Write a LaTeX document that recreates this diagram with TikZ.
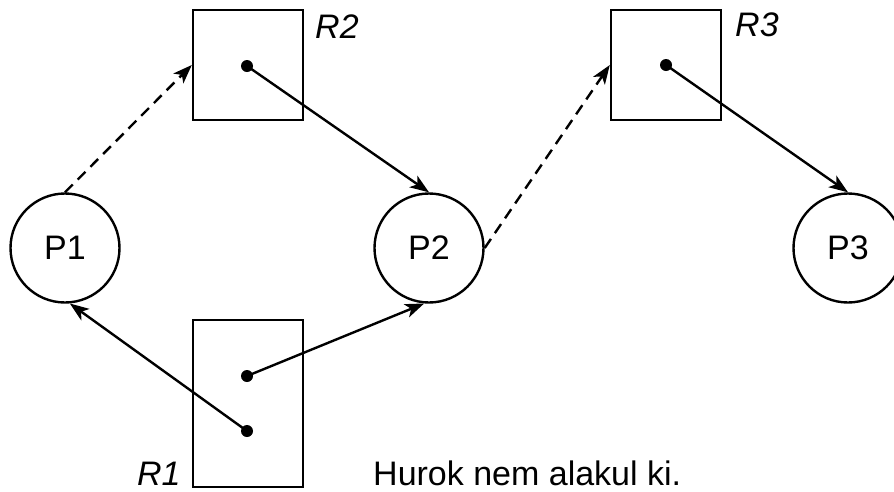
\documentclass[tikz,border=0pt]{standalone}
\usepackage{fontspec}
\setmainfont{Liberation Sans}
\usetikzlibrary{arrows.meta}
\begin{document}
\begin{tikzpicture}[x=1pt,y=-1pt,
  every node/.style={font=\fontsize{34}{40}\selectfont},
  proc/.style={draw,circle,line width=2.4pt,minimum size=109pt,inner sep=0pt},
  res/.style={draw,rectangle,line width=2.4pt,inner sep=0pt},
  dotnode/.style={circle,fill,minimum size=12pt,inner sep=0pt},
  lbl/.style={inner sep=0pt,font=\fontsize{34}{40}\selectfont\itshape},
  req/.style={line width=2.4pt,dash pattern=on 11pt off 7pt,-{Stealth[length=19pt,width=14pt,inset=5pt]}},
  asg/.style={line width=2.4pt,-{Stealth[length=19pt,width=14pt,inset=5pt]}}]
\useasboundingbox (0,0) rectangle (894,491);
\node[proc] (P1) at (65,248) {P1};
\node[proc] (P2) at (429,248) {P2};
\node[proc] (P3) at (848,248) {P3};
\node[res,minimum width=110pt,minimum height=110pt] (R2) at (248,65) {};
\node[res,minimum width=110pt,minimum height=110pt] (R3) at (666,65) {};
\node[res,minimum width=110pt,minimum height=167pt] (R1) at (248,403.5) {};
\node[dotnode] (d2) at (247,66) {};
\node[dotnode] (d3) at (666,65) {};
\node[dotnode] (d1a) at (247,376) {};
\node[dotnode] (d1b) at (247,431) {};
\node[lbl,anchor=west] (l2) at (315,27) {R2};
\node[lbl,anchor=west] (l3) at (735,25) {R3};
\node[lbl,anchor=base west] (l1) at (137,485) {R1};
\node[inner sep=0pt,anchor=base west] (txt) at (373,485) {Hurok nem alakul ki.};
\draw[req] (P1.north) -- (R2.west);
\draw[req] (P2.east) -- (R3.west);
\draw[asg] (d2.center) -- (P2.north);
\draw[asg] (d3.center) -- (P3.north);
\draw[asg] (d1a.center) -- (P2.265);
\draw[asg] (d1b.center) -- (P1.275);
\end{tikzpicture}
\end{document}
